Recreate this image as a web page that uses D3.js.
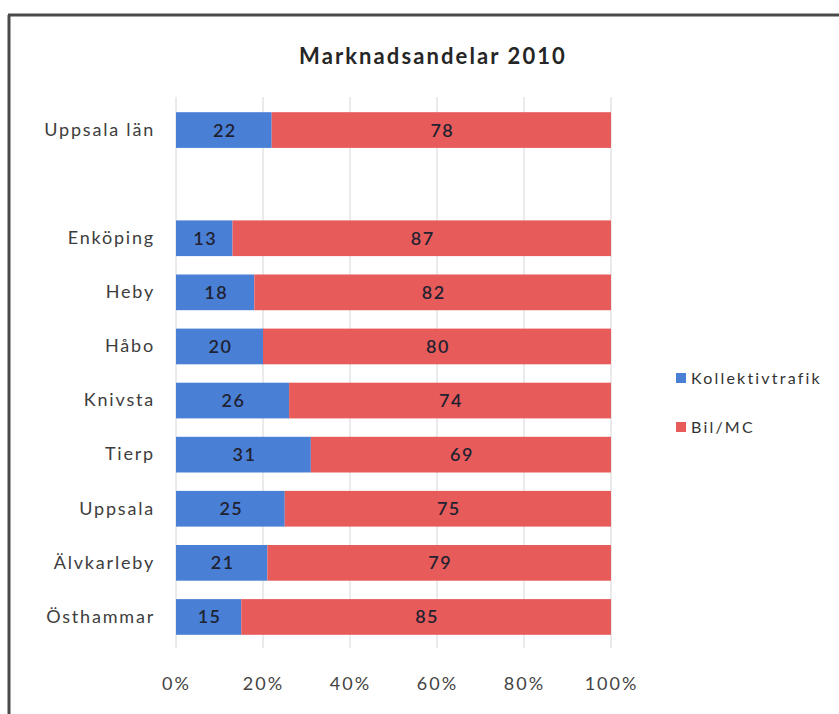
<!DOCTYPE html>
<html>
<head>
<meta charset="utf-8">
<script src="https://cdn.jsdelivr.net/npm/d3@7/dist/d3.min.js"></script>
<style>
  html, body { margin: 0; padding: 0; background: #fff; }
  svg { display: block; font-family: Lato, "Open Sans", sans-serif; }
</style>
</head>
<body>
<svg id="chart" width="839" height="714"></svg>
<script>
// Kommuner (with an empty spacer row after the county total)
const categories = ["Uppsala län", "", "Enköping", "Heby", "Håbo", "Knivsta", "Tierp", "Uppsala", "Älvkarleby", "Östhammar"];
const kollektivtrafik = [22, null, 13, 18, 20, 26, 31, 25, 21, 15];
const bilMC = [78, null, 87, 82, 80, 74, 69, 75, 79, 85];
const seriesNames = ["Kollektivtrafik", "Bil/MC"];
const seriesColors = ["#4a7fd6", "#e85b5b"];
const xTicks = [0, 20, 40, 60, 80, 100];
const title = "Marknadsandelar 2010";

const svg = d3.select("#chart");
const font = "Lato, 'Open Sans', sans-serif";

// outer frame (left and top edges)
svg.append("line").attr("x1", 9).attr("x2", 9).attr("y1", 15).attr("y2", 714)
  .attr("stroke", "#4a4a4a").attr("stroke-width", 3);
svg.append("line").attr("x1", 8).attr("x2", 839).attr("y1", 15).attr("y2", 15)
  .attr("stroke", "#4a4a4a").attr("stroke-width", 3);

const margin = { left: 176, right: 228, top: 103, bottom: 70 };
const width = 839 - margin.left - margin.right;
const height = 714 - margin.top - margin.bottom;

const x = d3.scaleLinear().domain([0, 100]).range([margin.left, margin.left + width]);
const y = d3.scaleBand().domain(d3.range(categories.length))
  .range([margin.top, margin.top + height]).paddingInner(0.34).paddingOuter(0.17);

// title
svg.append("text").attr("x", 433).attr("y", 64).attr("text-anchor", "middle")
  .attr("font-size", 22).attr("font-weight", "bold").attr("letter-spacing", 2.1)
  .attr("fill", "#262626").text(title);

// vertical gridlines
svg.append("g").selectAll("line").data(xTicks).join("line")
  .attr("x1", d => x(d)).attr("x2", d => x(d))
  .attr("y1", margin.top - 6).attr("y2", margin.top + height + 4)
  .attr("stroke", "#d6d6d6").attr("stroke-width", 1);

// x axis tick labels
const xAxis = d3.axisBottom(x).tickValues(xTicks).tickFormat(d => d + "%").tickSize(0).tickPadding(0);
const gx = svg.append("g").attr("transform", `translate(0,${margin.top + height + 33})`).call(xAxis);
gx.select(".domain").remove();
gx.selectAll("text").attr("font-size", 18).attr("letter-spacing", 2).attr("fill", "#444").attr("font-family", font);

// category labels
const yAxis = d3.axisLeft(y).tickFormat(i => categories[i]).tickSize(0).tickPadding(21);
const gy = svg.append("g").attr("transform", `translate(${margin.left},0)`).call(yAxis);
gy.select(".domain").remove();
gy.selectAll("text").attr("font-size", 18).attr("letter-spacing", 1.8).attr("fill", "#3d3d3d").attr("font-family", font);

// stacked bars
const rows = categories.map((c, i) => ({ i, a: kollektivtrafik[i], b: bilMC[i] })).filter(d => d.a !== null);
const segs = [];
rows.forEach(r => {
  segs.push({ i: r.i, x0: 0, x1: r.a, v: r.a, s: 0 });
  segs.push({ i: r.i, x0: r.a, x1: r.a + r.b, v: r.b, s: 1 });
});

svg.append("g").selectAll("rect").data(segs).join("rect")
  .attr("x", d => x(d.x0)).attr("width", d => x(d.x1) - x(d.x0))
  .attr("y", d => y(d.i)).attr("height", y.bandwidth())
  .attr("fill", d => seriesColors[d.s]);

svg.append("g").selectAll("text").data(segs).join("text")
  .attr("x", d => (x(d.x0) + x(d.x1)) / 2 + 1)
  .attr("y", d => y(d.i) + y.bandwidth() / 2)
  .attr("dy", "0.36em").attr("text-anchor", "middle")
  .attr("font-size", 18).attr("font-weight", 600).attr("letter-spacing", 1.5)
  .attr("fill", "#1f2230")
  .text(d => d.v);

// legend
const legend = svg.append("g").attr("transform", "translate(676,373)");
seriesNames.forEach((n, k) => {
  const g = legend.append("g").attr("transform", `translate(0,${k * 49})`);
  g.append("rect").attr("width", 10).attr("height", 10).attr("y", 0).attr("fill", seriesColors[k]);
  g.append("text").attr("x", 15).attr("y", 5).attr("dy", "0.36em")
    .attr("font-size", 16).attr("letter-spacing", 2.2).attr("fill", "#333").text(n);
});
</script>
</body>
</html>
